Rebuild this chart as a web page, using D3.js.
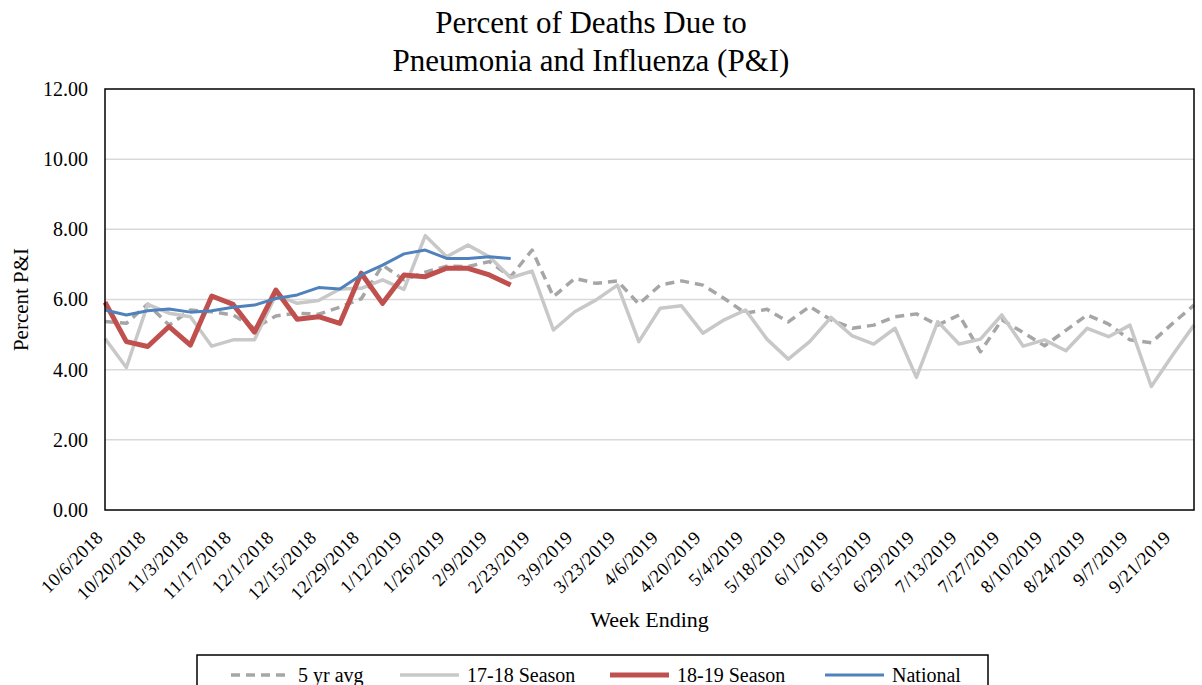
<!DOCTYPE html>
<html lang="en">
  <head>
    <meta charset="utf-8" />
    <title>Percent of Deaths Due to Pneumonia and Influenza (P&amp;I)</title>
    <script src="https://d3js.org/d3.v7.min.js"></script>
    <style>
      body {
        margin: 0;
        background: #fff;
      }
      svg text {
        font-family: "Liberation Serif", "Times New Roman", serif;
        fill: #000;
      }
      .grid line {
        stroke: #d9d9d9;
        stroke-width: 1.5;
      }
    </style>
  </head>
  <body>
    <svg id="chart"></svg>
    <script>
      // week ending dates (categories)
      const weeks = [
        "10/6/2018", "10/13/2018", "10/20/2018", "10/27/2018", "11/3/2018", "11/10/2018",
        "11/17/2018", "11/24/2018", "12/1/2018", "12/8/2018", "12/15/2018", "12/22/2018",
        "12/29/2018", "1/5/2019", "1/12/2019", "1/19/2019", "1/26/2019", "2/2/2019",
        "2/9/2019", "2/16/2019", "2/23/2019", "3/2/2019", "3/9/2019", "3/16/2019",
        "3/23/2019", "3/30/2019", "4/6/2019", "4/13/2019", "4/20/2019", "4/27/2019",
        "5/4/2019", "5/11/2019", "5/18/2019", "5/25/2019", "6/1/2019", "6/8/2019",
        "6/15/2019", "6/22/2019", "6/29/2019", "7/6/2019", "7/13/2019", "7/20/2019",
        "7/27/2019", "8/3/2019", "8/10/2019", "8/17/2019", "8/24/2019", "8/31/2019",
        "9/7/2019", "9/14/2019", "9/21/2019", "9/28/2019",
      ];

      const avg5yr = [
        5.37, 5.32, 5.87, 5.27, 5.70, 5.65, 5.56, 5.18, 5.53, 5.61, 5.58, 5.78, 6.02,
        6.98, 6.56, 6.78, 6.95, 6.94, 7.08, 6.65, 7.41, 6.08, 6.60, 6.46, 6.53, 5.87,
        6.41, 6.53, 6.41, 6.03, 5.61, 5.72, 5.36, 5.80, 5.42, 5.18, 5.27, 5.51, 5.59,
        5.27, 5.56, 4.51, 5.42, 5.06, 4.68, 5.12, 5.56, 5.30, 4.85, 4.77, 5.32, 5.84,
      ];

      const season1718 = [
        4.89, 4.06, 5.86, 5.61, 5.51, 4.67, 4.85, 4.85, 6.13, 5.89, 5.97, 6.30, 6.32,
        6.56, 6.29, 7.82, 7.22, 7.55, 7.22, 6.62, 6.81, 5.13, 5.65, 5.99, 6.41, 4.80,
        5.75, 5.82, 5.04, 5.42, 5.70, 4.87, 4.30, 4.80, 5.49, 4.96, 4.73, 5.18, 3.78,
        5.37, 4.73, 4.87, 5.56, 4.67, 4.85, 4.54, 5.18, 4.94, 5.27, 3.52, 4.42, 5.27,
      ];

      const season1819 = [
        5.92, 4.80, 4.66, 5.23, 4.70, 6.10, 5.86, 5.07, 6.27, 5.44, 5.51, 5.32, 6.75,
        5.89, 6.70, 6.65, 6.89, 6.89, 6.70, 6.41,
      ];

      const national = [
        5.70, 5.56, 5.68, 5.73, 5.64, 5.68, 5.78, 5.84, 6.03, 6.13, 6.34, 6.30, 6.70,
        6.98, 7.30, 7.41, 7.17, 7.17, 7.22, 7.17,
      ];

      const yTicks = [0, 2, 4, 6, 8, 10, 12];

      const series = [
        { name: "5 yr avg", values: avg5yr, color: "#a6a6a6", width: 3.5, dash: "9,6" },
        { name: "17-18 Season", values: season1718, color: "#c8c8c8", width: 3.5, dash: null },
        { name: "18-19 Season", values: season1819, color: "#c0504d", width: 5, dash: null },
        { name: "National", values: national, color: "#4f81bd", width: 3, dash: null },
      ];

      const W = 1202;
      const H = 685;
      const plot = { left: 105, right: 1194, top: 89, bottom: 510 };

      const svg = d3.select("#chart").attr("width", W).attr("height", H);

      const x = d3.scalePoint().domain(weeks).range([plot.left, plot.right]);
      const y = d3.scaleLinear().domain([0, 12]).range([plot.bottom, plot.top]);

      // title
      svg
        .append("text")
        .attr("x", 591)
        .attr("text-anchor", "middle")
        .style("font-size", "31px")
        .selectAll("tspan")
        .data(["Percent of Deaths Due to", "Pneumonia and Influenza (P&I)"])
        .join("tspan")
        .attr("x", 591)
        .attr("y", (d, i) => 33 + i * 38)
        .text((d) => d);

      // gridlines
      svg
        .append("g")
        .attr("class", "grid")
        .selectAll("line")
        .data(yTicks.filter((t) => t > 0 && t < 12))
        .join("line")
        .attr("x1", plot.left)
        .attr("x2", plot.right)
        .attr("y1", (d) => y(d))
        .attr("y2", (d) => y(d));

      // y axis labels
      const yAxis = d3
        .axisLeft(y)
        .tickValues(yTicks)
        .tickSize(0)
        .tickPadding(17)
        .tickFormat(d3.format(".2f"));
      const gy = svg.append("g").attr("transform", `translate(${plot.left},0)`).call(yAxis);
      gy.select(".domain").remove();
      gy.selectAll("text").style("font-size", "20px").style("font-family", null);

      // x axis labels, every second week
      const xAxis = d3
        .axisBottom(x)
        .tickValues(weeks.filter((d, i) => i % 2 === 0))
        .tickSize(0);
      const gx = svg.append("g").attr("transform", `translate(0,${plot.bottom})`).call(xAxis);
      gx.select(".domain").remove();
      gx.selectAll("text")
        .style("font-size", "18.5px")
        .style("font-family", null)
        .style("letter-spacing", "0.4px")
        .attr("text-anchor", "end")
        .attr("y", 0)
        .attr("dy", "0.35em")
        .attr("transform", "translate(-6,24) rotate(-45)");

      // axis titles
      svg
        .append("text")
        .attr("transform", `translate(28,${(plot.top + plot.bottom) / 2}) rotate(-90)`)
        .attr("text-anchor", "middle")
        .style("font-size", "21px")
        .text("Percent P&I");

      svg
        .append("text")
        .attr("x", (plot.left + plot.right) / 2)
        .attr("y", 627)
        .attr("text-anchor", "middle")
        .style("font-size", "22px")
        .text("Week Ending");

      // lines
      const line = d3
        .line()
        .x((d, i) => x(weeks[i]))
        .y((d) => y(d));

      svg
        .append("g")
        .selectAll("path")
        .data(series)
        .join("path")
        .attr("fill", "none")
        .attr("stroke", (d) => d.color)
        .attr("stroke-width", (d) => d.width)
        .attr("stroke-dasharray", (d) => d.dash)
        .attr("stroke-linejoin", "round")
        .attr("d", (d) => line(d.values));

      // plot frame
      svg
        .append("rect")
        .attr("x", plot.left)
        .attr("y", plot.top)
        .attr("width", plot.right - plot.left)
        .attr("height", plot.bottom - plot.top)
        .attr("fill", "none")
        .attr("stroke", "#000")
        .attr("stroke-width", 1.5);

      // legend
      const legendX = [231, 400, 610, 825];
      const legend = svg.append("g");
      legend
        .append("rect")
        .attr("x", 197)
        .attr("y", 655)
        .attr("width", 791)
        .attr("height", 50)
        .attr("fill", "#fff")
        .attr("stroke", "#000")
        .attr("stroke-width", 1.5);

      const items = legend
        .selectAll("g.item")
        .data(series)
        .join("g")
        .attr("class", "item")
        .attr("transform", (d, i) => `translate(${legendX[i]},675)`);

      items
        .append("line")
        .attr("x1", 0)
        .attr("x2", 59)
        .attr("stroke", (d) => d.color)
        .attr("stroke-width", (d) => d.width)
        .attr("stroke-dasharray", (d) => d.dash);

      items
        .append("text")
        .attr("x", 67)
        .attr("dy", "0.35em")
        .style("font-size", "20px")
        .text((d) => d.name);
    </script>
  </body>
</html>
